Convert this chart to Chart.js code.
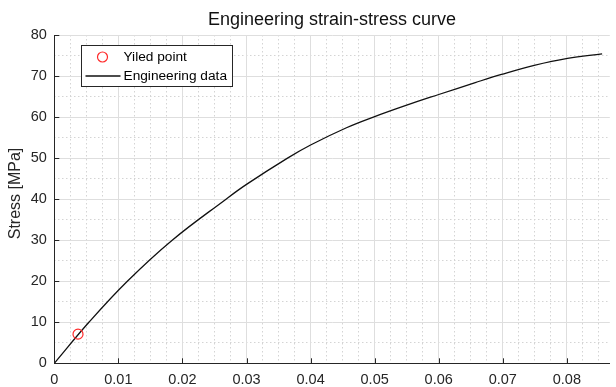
<!DOCTYPE html>
<html>
<head>
<meta charset="utf-8">
<title>Engineering strain-stress curve</title>
<script src="https://cdn.jsdelivr.net/npm/chart.js@4.4.1/dist/chart.umd.min.js"></script>
<style>
  html, body { margin: 0; padding: 0; background: #fff; }
  #wrap { width: 616px; height: 387px; }
</style>
</head>
<body>
<div id="wrap"><canvas id="c" width="616" height="387"></canvas></div>
<script>
// Measured engineering strain [-] and stress [MPa]
const strain = [0, 0.0054, 0.0114, 0.0184, 0.0268, 0.0300, 0.0364, 0.0400, 0.0456,
                0.0498, 0.0550, 0.0600, 0.0657, 0.0698, 0.0749, 0.0801, 0.0855];
const stress = [0, 10.0, 20.0, 30.0, 40.0, 43.6, 50.0, 53.2, 57.4,
                60.0, 62.9, 65.5, 68.4, 70.4, 72.6, 74.3, 75.4];

// Yield point
const yieldStrain = [0.0037];
const yieldStress = [7.1];

// Axis ticks
const xTicks = [0, 0.01, 0.02, 0.03, 0.04, 0.05, 0.06, 0.07, 0.08];
const xTickLabels = ['0', '0.01', '0.02', '0.03', '0.04', '0.05', '0.06', '0.07', '0.08'];
const xMinorTicks = [0.0025, 0.005, 0.0075, 0.0125, 0.015, 0.0175, 0.0225, 0.025, 0.0275,
                     0.0325, 0.035, 0.0375, 0.0425, 0.045, 0.0475, 0.0525, 0.055, 0.0575,
                     0.0625, 0.065, 0.0675, 0.0725, 0.075, 0.0775, 0.0825, 0.085];
const yTicks = [0, 10, 20, 30, 40, 50, 60, 70, 80];
const yMinorTicks = [5, 15, 25, 35, 45, 55, 65, 75];

const xMin = 0, xMax = 0.0867, yMin = 0, yMax = 80;

const FONT = '"Liberation Sans", Arial, Helvetica, sans-serif';
const INK = '#262626';
const GRID = '#dedede';
const MINOR_GRID = '#d4d4d4';

// Inward tick marks on the left and bottom axes
const tickMarks = {
  id: 'tickMarks',
  afterDatasetsDraw(chart) {
    const { ctx, chartArea } = chart;
    const xs = chart.scales.x, ys = chart.scales.y;
    ctx.save();
    ctx.strokeStyle = INK;
    ctx.lineWidth = 1;
    ctx.beginPath();
    xTicks.forEach(v => {
      const px = Math.round(xs.getPixelForValue(v)) + 0.5;
      ctx.moveTo(px, chartArea.bottom);
      ctx.lineTo(px, chartArea.bottom - 5);
    });
    yTicks.forEach(v => {
      const py = Math.round(ys.getPixelForValue(v)) + 0.5;
      ctx.moveTo(chartArea.left, py);
      ctx.lineTo(chartArea.left + 5, py);
    });
    ctx.stroke();
    ctx.restore();
  }
};

// Y axis title
const yTitle = {
  id: 'yTitle',
  afterDraw(chart) {
    const { ctx } = chart;
    ctx.save();
    ctx.translate(15.5, 193.5);
    ctx.rotate(-Math.PI / 2);
    ctx.fillStyle = INK;
    ctx.font = '16px ' + FONT;
    ctx.textAlign = 'center';
    ctx.textBaseline = 'middle';
    ctx.fillText('Stress [MPa]', 0, 0);
    ctx.restore();
  }
};

// Boxed legend in the upper-left corner of the plot area
const boxLegend = {
  id: 'boxLegend',
  afterDraw(chart) {
    const { ctx, chartArea } = chart;
    const x0 = Math.round(chartArea.left + 27) + 0.5;
    const y0 = Math.round(chartArea.top + 10) + 0.5;
    const w = 151, h = 41;
    ctx.save();
    ctx.fillStyle = '#fff';
    ctx.fillRect(x0, y0, w, h);
    ctx.strokeStyle = INK;
    ctx.lineWidth = 1;
    ctx.strokeRect(x0, y0, w, h);

    const ds = chart.data.datasets;
    ctx.font = '13.7px ' + FONT;
    ctx.fillStyle = '#000';
    ctx.textAlign = 'left';
    ctx.textBaseline = 'middle';

    // marker entry
    const r1 = y0 + 11.5;
    ctx.beginPath();
    ctx.strokeStyle = ds[0].borderColor;
    ctx.lineWidth = ds[0].borderWidth;
    ctx.arc(x0 + 21, r1, ds[0].pointRadius, 0, Math.PI * 2);
    ctx.stroke();
    ctx.fillText(ds[0].label, x0 + 42, r1);

    // line entry
    const r2 = y0 + 30.5;
    ctx.beginPath();
    ctx.strokeStyle = ds[1].borderColor;
    ctx.lineWidth = ds[1].borderWidth;
    ctx.moveTo(x0 + 4, r2);
    ctx.lineTo(x0 + 39, r2);
    ctx.stroke();
    ctx.fillText(ds[1].label, x0 + 42, r2);
    ctx.restore();
  }
};

const curvePoints = strain.map((s, i) => ({ x: s, y: stress[i] }));
const yieldPoints = yieldStrain.map((s, i) => ({ x: s, y: yieldStress[i] }));

new Chart(document.getElementById('c'), {
  type: 'scatter',
  data: {
    datasets: [
      {
        label: 'Yiled point',
        data: yieldPoints,
        showLine: false,
        pointStyle: 'circle',
        pointRadius: 5,
        pointBackgroundColor: 'rgba(0,0,0,0)',
        borderColor: '#ff2a2a',
        borderWidth: 1.2,
        order: 0
      },
      {
        label: 'Engineering data',
        data: curvePoints,
        showLine: true,
        pointRadius: 0,
        borderColor: '#111',
        borderWidth: 1.3,
        tension: 0.4,
        order: 1
      }
    ]
  },
  options: {
    responsive: false,
    animation: false,
    devicePixelRatio: 1,
    layout: { padding: 0 },
    plugins: {
      legend: { display: false },
      tooltip: { enabled: false },
      title: {
        display: true,
        text: 'Engineering strain-stress curve',
        fullSize: false,
        color: '#111',
        font: { family: FONT, size: 18, weight: 'normal', lineHeight: 1.2 },
        padding: { top: 9, bottom: 4.4 }
      }
    },
    scales: {
      xMinor: {
        type: 'linear', position: 'bottom', min: xMin, max: xMax,
        afterBuildTicks: s => { s.ticks = xMinorTicks.map(v => ({ value: v })); },
        afterFit: s => { s.height = 0; },
        ticks: { display: false },
        grid: { color: MINOR_GRID, lineWidth: 1, drawTicks: false },
        border: { display: false, dash: [1.5, 2.5] }
      },
      yMinor: {
        type: 'linear', position: 'left', min: yMin, max: yMax,
        afterBuildTicks: s => { s.ticks = yMinorTicks.map(v => ({ value: v })); },
        afterFit: s => { s.width = 0; },
        ticks: { display: false },
        grid: { color: MINOR_GRID, lineWidth: 1, drawTicks: false },
        border: { display: false, dash: [1.5, 2.5] }
      },
      x: {
        type: 'linear', position: 'bottom', min: xMin, max: xMax,
        afterBuildTicks: s => { s.ticks = xTicks.map(v => ({ value: v })); },
        afterFit: s => { s.height = 23.7; },
        ticks: {
          color: INK, padding: 8,
          font: { family: FONT, size: 14.5 },
          maxRotation: 0, autoSkip: false,
          callback: (v) => { const i = xTicks.indexOf(v); return i >= 0 ? xTickLabels[i] : ''; }
        },
        grid: { color: GRID, lineWidth: 1, drawTicks: false },
        border: { display: true, color: INK, width: 1 }
      },
      y: {
        type: 'linear', position: 'left', min: yMin, max: yMax,
        afterBuildTicks: s => { s.ticks = yTicks.map(v => ({ value: v })); },
        afterFit: s => { s.width = 54.3; },
        ticks: {
          color: INK, padding: 7.5,
          font: { family: FONT, size: 14.5 },
          autoSkip: false,
          callback: (v) => String(v)
        },
        grid: { color: GRID, lineWidth: 1, drawTicks: false },
        border: { display: true, color: INK, width: 1 }
      }
    }
  },
  plugins: [tickMarks, yTitle, boxLegend]
});
</script>
</body>
</html>
